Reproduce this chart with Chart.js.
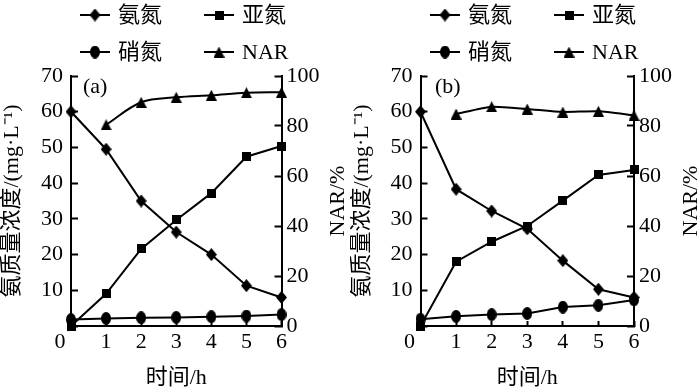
<!DOCTYPE html>
<html><head><meta charset="utf-8">
<script src="https://cdn.jsdelivr.net/npm/chart.js@4.4.1/dist/chart.umd.min.js"></script>
<style>
html,body{margin:0;padding:0;background:#fff;width:700px;height:388px;overflow:hidden}
#wrap{position:relative;width:700px;height:388px}
canvas{position:absolute;top:0}
</style></head><body>
<div id="wrap">
<canvas id="ca" width="350" height="388" style="left:0"></canvas>
<canvas id="cb" width="350" height="388" style="left:350px"></canvas>
</div>
<script>
// ---- data ----
const times = [0, 1, 2, 3, 4, 5, 6];
const seriesNames = ['氨氮', '亚氮', '硝氮', 'NAR'];
const xTitle = '时间/h';
const yTitle = '氨质量浓度/(mg·L⁻¹)';
const y1Title = 'NAR/%';
const panelLabels = ['(a)', '(b)'];
const xTicks = [0, 6, 1];
const yTicks = [0, 70, 10];
const y1Ticks = [0, 100, 20];

const ammoniaA = [60, 49.5, 35, 26.3, 20, 11.3, 8];
const nitriteA = [0, 9, 21.6, 29.7, 37.2, 47.4, 50.4];
const nitrateA = [1.8, 2.1, 2.3, 2.4, 2.6, 2.8, 3.2];
const narA = [null, 80.5, 89.5, 91.5, 92.3, 93.3, 93.5];

const ammoniaB = [60, 38.3, 32.2, 27.2, 18.3, 10.3, 8];
const nitriteB = [0, 18, 23.6, 28, 35.1, 42.3, 43.7];
const nitrateB = [1.9, 2.7, 3.2, 3.5, 5.3, 5.8, 7.3];
const narB = [null, 84.8, 87.7, 86.8, 85.6, 85.9, 84.3];

// ---- font selection ----
function hasFont(name) {
  const c = document.createElement('canvas').getContext('2d');
  const s = 'abcdefghijMWl0123456789()/%';
  let diff = false;
  ['monospace', 'sans-serif'].forEach(g => {
    c.font = '40px ' + g; const a = c.measureText(s).width;
    c.font = '40px "' + name + '", ' + g; const b = c.measureText(s).width;
    if (Math.abs(a - b) > 0.5) diff = true;
  });
  return diff;
}
const serifCands = ['Liberation Serif', 'Times New Roman', 'Tinos', 'DejaVu Serif', 'Noto Serif'];
const latin = serifCands.find(hasFont);
const FAMILY = (latin ? '"' + latin + '", ' : '') + '"Noto Sans CJK SC", serif';
Chart.defaults.font.family = FAMILY;
Chart.defaults.color = '#000';

function mk(w, h, draw) {
  const c = document.createElement('canvas');
  c.width = w; c.height = h;
  const g = c.getContext('2d');
  g.fillStyle = '#000';
  g.beginPath();
  draw(g, w, h);
  g.fill();
  return c;
}
const mDiamond = mk(11, 13, (g, w, h) => { g.moveTo(w/2, 0); g.lineTo(w, h/2); g.lineTo(w/2, h); g.lineTo(0, h/2); g.closePath(); });
const mSquare = mk(9, 9, (g, w, h) => { g.rect(0, 0, w, h); });
const mEllipse = mk(10, 13, (g, w, h) => { g.ellipse(w/2, h/2, w/2, h/2, 0, 0, Math.PI*2); });
const mTriangle = mk(11, 11, (g, w, h) => { g.moveTo(w/2, 0); g.lineTo(w, h); g.lineTo(0, h); g.closePath(); });
const markers = [mDiamond, mSquare, mEllipse, mTriangle];

const decor = {
  id: 'decor',
  afterDraw(chart, args, opts) {
    const ctx = chart.ctx;
    ctx.save();
    ctx.font = '22px ' + FAMILY;
    ctx.fillStyle = '#000';
    ctx.textBaseline = 'middle';
    ctx.textAlign = 'left';
    // panel label
    ctx.fillText(opts.label, opts.labelX, 87);
    // legend (2 x 2)
    const cols = [80, 204], rows = [15, 52];
    for (let i = 0; i < 4; i++) {
      const x0 = cols[i % 2], y0 = rows[Math.floor(i / 2)];
      ctx.strokeStyle = '#000';
      ctx.lineWidth = 2;
      ctx.beginPath(); ctx.moveTo(x0, y0); ctx.lineTo(x0 + 30, y0); ctx.stroke();
      const m = markers[i];
      ctx.drawImage(m, x0 + 15 - m.width/2, y0 - m.height/2);
      ctx.fillText(seriesNames[i], x0 + 38, y0 + 1);
    }
    // right axis title, reading bottom-to-top
    const area = chart.chartArea;
    ctx.translate(opts.rtX, (area.top + area.bottom) / 2);
    ctx.rotate(-Math.PI / 2);
    ctx.textAlign = 'center';
    ctx.fillText(y1Title, 0, 0);
    ctx.restore();
  }
};

function pts(arr) { return times.map((t, i) => ({x: t, y: arr[i]})); }

function ds(label, arr, marker, axis, tension) {
  return {
    label, data: pts(arr), yAxisID: axis,
    borderColor: '#000', backgroundColor: '#000', borderWidth: 2,
    pointStyle: marker, pointRadius: 6, tension: tension || 0,
    clip: false, spanGaps: false
  };
}

function makeChart(id, amm, nit, nat, nar, cfg) {
  return new Chart(document.getElementById(id), {
    type: 'line',
    data: {
      datasets: [
        ds(seriesNames[0], amm, mDiamond, 'y'),
        ds(seriesNames[1], nit, mSquare, 'y'),
        ds(seriesNames[2], nat, mEllipse, 'y'),
        ds(seriesNames[3], nar, mTriangle, 'y1', cfg.tension)
      ]
    },
    plugins: [decor],
    options: {
      responsive: false, devicePixelRatio: 1, animation: false, events: [],
      plugins: {
        legend: { display: false }, tooltip: { enabled: false },
        decor: { label: cfg.label, labelX: cfg.labelX, rtX: cfg.rtX }
      },
      scales: {
        x: {
          type: 'linear', position: 'bottom', min: xTicks[0], max: xTicks[1],
          ticks: { stepSize: xTicks[2], padding: 8, maxRotation: 0, minRotation: 0, autoSkip: false,
            font: { size: 22, lineHeight: 1.2 },
            callback: v => v === 0 ? '0\u2002\u2002' : String(v) },
          grid: { drawOnChartArea: false, tickLength: -5, tickColor: '#000', tickWidth: 2, color: '#000' },
          border: { color: '#000', width: 2 },
          title: { display: true, text: xTitle, font: { size: 22, lineHeight: 1.1 }, padding: { top: 0, bottom: -2 } },
          afterFit: s => { s.height = 62; }
        },
        y: {
          type: 'linear', position: 'left', min: yTicks[0], max: yTicks[1],
          ticks: { stepSize: yTicks[2], padding: 15, font: { size: 22 },
            callback: v => v === 0 ? '' : String(v) },
          grid: { drawOnChartArea: false, tickLength: -7, tickColor: '#000', tickWidth: 2, color: '#000' },
          border: { color: '#000', width: 2 },
          title: { display: true, text: yTitle, font: { size: 22, lineHeight: 1.1 }, padding: { top: 0, bottom: 0 } },
          afterFit: s => { s.width = cfg.leftW; }
        },
        y1: {
          type: 'linear', position: 'right', min: y1Ticks[0], max: y1Ticks[1],
          ticks: { stepSize: y1Ticks[2], padding: 12, font: { size: 22 } },
          grid: { drawOnChartArea: false, tickLength: -7, tickColor: '#000', tickWidth: 2, color: '#000' },
          border: { color: '#000', width: 2 },
          title: { display: false },
          afterFit: s => { s.width = cfg.rightW; }
        }
      },
      layout: { padding: { top: 76, left: 0, right: 0, bottom: 0 } }
    }
  });
}

makeChart('ca', ammoniaA, nitriteA, nitrateA, narA,
  { label: panelLabels[0], labelX: 83, leftW: 71, rightW: 68.5, rtX: 338, tension: 0.35 });
makeChart('cb', ammoniaB, nitriteB, nitrateB, narB,
  { label: panelLabels[1], labelX: 85, leftW: 70.5, rightW: 66, rtX: 341, tension: 0.2 });
</script>
</body></html>
